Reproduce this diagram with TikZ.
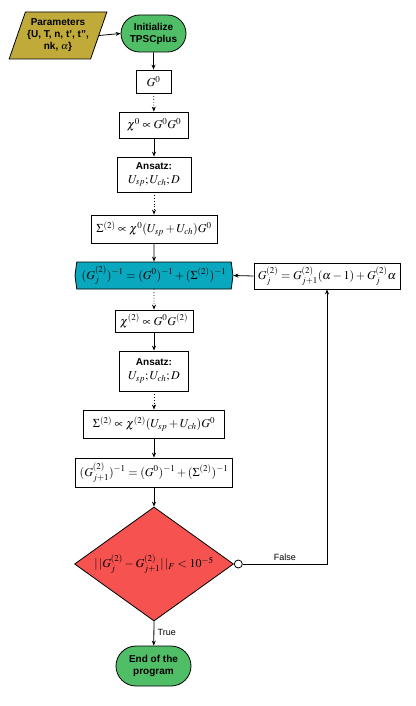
\documentclass[tikz,border=0pt]{standalone}
\usepackage{mathptmx}
\usepackage{fontspec}
\setmainfont{Liberation Sans}
\usetikzlibrary{shapes.geometric,shapes.misc,shapes.symbols,arrows.meta}
\definecolor{olivey}{RGB}{191,170,58}
\definecolor{greeny}{RGB}{80,190,102}
\definecolor{tealy}{RGB}{10,168,190}
\definecolor{redy}{RGB}{245,82,80}
\newcommand{\mfont}{\fontsize{12}{14}\selectfont}
\begin{document}
\begin{tikzpicture}[x=1pt,y=-1pt,
  line width=0.8pt,
  box/.style={draw,rectangle,fill=white,inner sep=2pt,align=center,font=\mfont},
  term/.style={draw,rounded rectangle,fill=greeny,align=center,inner sep=2pt,font=\bfseries},
  arr/.style={-{Stealth[length=5pt,width=4pt]}},
  darr/.style={arr,dotted}]
\useasboundingbox (0,0) rectangle (415,706);
\node[draw,trapezium,trapezium left angle=65,trapezium right angle=115,trapezium stretches=true,
  minimum width=98,minimum height=47,fill=olivey,align=center,inner sep=0pt,font=\bfseries]
  (par) at (58,35.5) {Parameters\\\{U, T, n, t', t'',\\nk, $\alpha$\}};
\node[term,minimum width=69,minimum height=37] (init) at (153.5,33.5) {Initialize\\TPSCplus};
\node[box,minimum width=35,minimum height=23] (g0) at (153.5,81.5) {$G^0$};
\node[box,minimum width=69,minimum height=26] (chi0) at (154,125) {$\chi^0 \propto G^0G^0$};
\node[box,minimum width=74,minimum height=35,inner sep=1pt] (ans1) at (154,174.5) {{\normalsize\bfseries Ansatz:}\\$U_{sp}; U_{ch}; D$};
\node[box,minimum width=126,minimum height=28] (sig1) at (154,229) {$\Sigma^{(2)} \propto \chi^0(U_{sp}+U_{ch})G^0$};
\node[draw,signal,signal to=west and east,signal pointer angle=165,fill=tealy,
  minimum width=158,minimum height=27,inner sep=2pt,font=\mfont] (hex) at (154,275.5)
  {$(G^{(2)}_j)^{-1} = (G^0)^{-1} + (\Sigma^{(2)})^{-1}$};
\node[box,minimum width=146,minimum height=26] (rb) at (327,276)
  {$G^{(2)}_j = G^{(2)}_{j+1}(\alpha-1) + G^{(2)}_j\alpha$};
\node[box,minimum width=78,minimum height=22] (chi2) at (154,321) {$\chi^{(2)} \propto G^0G^{(2)}$};
\node[box,minimum width=69,minimum height=40,inner sep=1pt] (ans2) at (154,371) {{\normalsize\bfseries Ansatz:}\\$U_{sp}; U_{ch}; D$};
\node[box,minimum width=141,minimum height=28] (sig2) at (154,424) {$\Sigma^{(2)} \propto \chi^{(2)}(U_{sp}+U_{ch})G^0$};
\node[box,minimum width=157,minimum height=29] (gj1) at (154,472.5) {$(G^{(2)}_{j+1})^{-1} = (G^0)^{-1} + (\Sigma^{(2)})^{-1}$};
\node[draw,diamond,fill=redy,minimum width=159,minimum height=114,inner sep=0pt,aspect=1.4,font=\mfont] (dia) at (154,564)
  {$|\,|G^{(2)}_j - G^{(2)}_{j+1}|\,|_F < 10^{-5}$};
\node[draw,circle,fill=white,minimum size=8,inner sep=0pt,anchor=west] (c) at (dia.east) {};
\node[term,minimum width=79,minimum height=40] (end) at (153.5,666) {End of the\\program};
\coordinate (corner) at (327,564);
\draw[arr] (par.east) -- (init.west);
\draw[arr] (init) -- (g0);
\draw[darr] (g0) -- (chi0);
\draw[arr] (chi0) -- (ans1);
\draw[darr] (ans1) -- (sig1);
\draw[arr] (sig1) -- (hex);
\draw[darr] (hex) -- (chi2);
\draw[arr] (chi2) -- (ans2);
\draw[darr] (ans2) -- (sig2);
\draw[arr] (sig2) -- (gj1);
\draw[arr] (gj1) -- (dia.north);
\draw[arr] (dia.south) -- node[right,font=\small,pos=0.45] {True} (end);
\draw[arr] (c.east) -- node[above,font=\small,pos=0.5] {False} (corner) -- (rb.south);
\draw[arr] (rb.west) -- (hex.east);
\end{tikzpicture}
\end{document}
